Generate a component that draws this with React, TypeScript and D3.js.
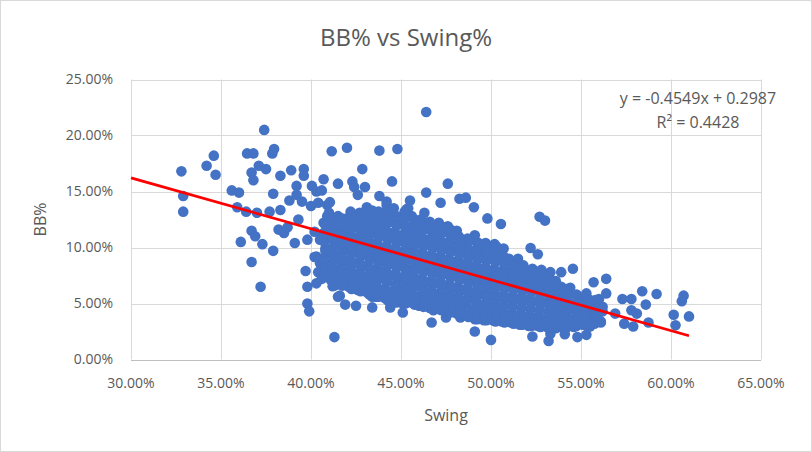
import React, { useEffect, useRef } from 'react';
import * as d3 from 'd3';

// swing %, BB %
const outerPlayers: [number, number][] = [
  [32.8, 16.8], [32.9, 14.6], [32.9, 13.2], [34.2, 17.3], [34.6, 18.2], [34.7, 16.5],
  [35.6, 15.1], [36.0, 14.9], [35.9, 13.6], [36.1, 10.5], [36.45, 18.4], [36.8, 18.4],
  [36.7, 16.7], [36.8, 16.0], [37.1, 17.3], [37.5, 17.0], [37.4, 20.5], [36.4, 13.2],
  [37.0, 13.1], [36.7, 11.5], [36.9, 11.0], [36.7, 8.7], [37.2, 6.5], [37.3, 10.3],
  [37.85, 18.4], [37.95, 18.8], [37.9, 14.8], [38.3, 16.4], [37.9, 9.7], [37.7, 13.2],
  [38.3, 13.35], [38.2, 11.6], [38.5, 11.3], [38.7, 11.8], [38.9, 16.9], [39.6, 17.0],
  [39.6, 16.4], [39.2, 15.5], [38.8, 14.2], [39.2, 14.7], [39.5, 14.1], [39.1, 10.4],
  [39.3, 12.5], [39.8, 10.7], [39.7, 7.9], [39.8, 6.5], [40.3, 6.8], [39.8, 5.0],
  [39.9, 4.3], [40.05, 15.5], [40.3, 15.0], [40.7, 16.1], [40.6, 15.1], [40.0, 13.7],
  [40.4, 14.0], [40.9, 13.8], [41.05, 14.05], [41.15, 18.6], [42.0, 18.9], [41.5, 15.7],
  [42.3, 15.9], [42.4, 15.4], [42.85, 17.0], [43.0, 15.4], [42.6, 14.7], [43.8, 18.65],
  [44.8, 18.8], [44.5, 15.9], [43.8, 14.6], [44.2, 14.1], [45.5, 14.2], [46.4, 22.1],
  [46.4, 14.9], [47.6, 15.7], [47.2, 14.0], [48.25, 14.35], [48.6, 14.45], [49.05, 13.6],
  [49.8, 12.6], [50.55, 12.1], [52.7, 12.75], [53.0, 12.4], [52.2, 9.95], [52.6, 9.4],
  [51.5, 9.0], [54.55, 8.1], [53.9, 7.8], [56.4, 7.2], [55.7, 6.9], [57.3, 5.4],
  [58.4, 6.1], [59.2, 5.85], [57.8, 5.4], [58.6, 4.9], [57.8, 4.4], [58.1, 4.1],
  [57.4, 3.2], [57.9, 2.95], [58.75, 3.3], [60.15, 4.0], [60.25, 3.05], [60.6, 5.2],
  [60.7, 5.7], [61.0, 3.85], [56.9, 4.1], [56.1, 3.4], [56.2, 4.3], [56.4, 5.9],
  [55.5, 2.95], [55.3, 2.2], [54.8, 2.0], [54.1, 2.25], [53.2, 1.65], [53.3, 2.3],
  [52.3, 2.05], [50.0, 1.75], [49.1, 2.5], [46.7, 3.3], [47.5, 3.75], [48.3, 3.75],
  [41.3, 2.0], [41.3, 6.6], [41.6, 5.7], [41.9, 4.9], [42.5, 4.8], [43.4, 4.65],
  [44.4, 4.65], [45.1, 4.2], [43.4, 5.6], [46.0, 4.8], [46.8, 4.4], [40.2, 9.15],
  [40.5, 8.6], [40.9, 8.3], [41.2, 6.55], [41.5, 5.6],
];

const corePlayers: [number, number][] = [
  [40.4, 7.8], [40.7, 8.5], [40.3, 9.2], [40.8, 9.9], [40.5, 10.7], [40.2, 11.4], [40.7, 12.2], [40.9, 12.8], [40.6, 7.2],
  [41.1, 7.1], [40.9, 7.9], [41.2, 8.7], [41.0, 9.5], [41.3, 10.2], [41.1, 11.0], [40.9, 11.8], [41.2, 12.5], [41.0, 13.1],
  [41.6, 6.7], [41.4, 7.5], [41.7, 8.2], [41.5, 9.0], [41.8, 9.8], [41.4, 10.5], [41.6, 11.3], [41.8, 12.0], [41.5, 12.8],
  [42.1, 6.5], [41.9, 7.3], [42.2, 8.0], [42.0, 8.8], [42.3, 9.6], [41.9, 10.4], [42.1, 11.2], [42.3, 11.9], [42.0, 12.6], [42.2, 13.2],
  [42.6, 6.2], [42.4, 7.0], [42.7, 7.8], [42.5, 8.6], [42.8, 9.3], [42.4, 10.1], [42.6, 10.9], [42.8, 11.6], [42.5, 12.4], [42.7, 13.1],
  [43.1, 6.0], [42.9, 6.8], [43.2, 7.5], [43.0, 8.3], [43.3, 9.1], [42.9, 9.9], [43.1, 10.6], [43.3, 11.4], [43.0, 12.2], [43.2, 12.9], [43.1, 13.6],
  [43.6, 5.6], [43.4, 6.4], [43.7, 7.2], [43.5, 8.0], [43.8, 8.7], [43.4, 9.5], [43.6, 10.3], [43.8, 11.0], [43.5, 11.8], [43.7, 12.6], [43.4, 13.3],
  [44.1, 5.5], [43.9, 6.2], [44.2, 7.0], [44.0, 7.7], [44.3, 8.5], [43.9, 9.3], [44.1, 10.0], [44.3, 10.8], [44.0, 11.6], [44.2, 12.3], [44.0, 13.1], [44.2, 13.8],
  [44.6, 5.2], [44.4, 6.0], [44.7, 6.7], [44.5, 7.5], [44.8, 8.3], [44.4, 9.0], [44.6, 9.8], [44.8, 10.6], [44.5, 11.3], [44.7, 12.1], [44.4, 12.9], [44.6, 13.5],
  [45.1, 5.0], [44.9, 5.8], [45.2, 6.5], [45.0, 7.3], [45.3, 8.1], [44.9, 8.8], [45.1, 9.6], [45.3, 10.4], [45.0, 11.1], [45.2, 11.9], [45.1, 12.7], [45.3, 13.4],
  [45.6, 5.1], [45.4, 5.9], [45.7, 6.6], [45.5, 7.4], [45.8, 8.2], [45.4, 9.0], [45.6, 9.7], [45.8, 10.5], [45.5, 11.2], [45.7, 12.0], [45.6, 12.8], [45.4, 13.5],
  [46.1, 4.8], [45.9, 5.6], [46.2, 6.3], [46.0, 7.1], [46.3, 7.9], [45.9, 8.6], [46.1, 9.4], [46.3, 10.2], [46.0, 10.9], [46.2, 11.7], [46.1, 12.5], [46.3, 13.1],
  [46.6, 4.6], [46.4, 5.4], [46.7, 6.1], [46.5, 6.9], [46.8, 7.7], [46.4, 8.4], [46.6, 9.2], [46.8, 10.0], [46.5, 10.7], [46.7, 11.5], [46.6, 12.3],
  [47.1, 4.5], [46.9, 5.3], [47.2, 6.0], [47.0, 6.8], [47.3, 7.6], [46.9, 8.3], [47.1, 9.1], [47.3, 9.9], [47.0, 10.6], [47.2, 11.4], [47.1, 12.2],
  [47.6, 4.3], [47.4, 5.1], [47.7, 5.8], [47.5, 6.6], [47.8, 7.4], [47.4, 8.1], [47.6, 8.9], [47.8, 9.7], [47.5, 10.4], [47.7, 11.2], [47.6, 11.9],
  [48.1, 4.1], [47.9, 4.9], [48.2, 5.6], [48.0, 6.4], [48.3, 7.2], [47.9, 7.9], [48.1, 8.7], [48.3, 9.5], [48.0, 10.2], [48.2, 11.0], [48.1, 11.5],
  [48.6, 3.9], [48.4, 4.7], [48.7, 5.4], [48.5, 6.2], [48.8, 7.0], [48.4, 7.7], [48.6, 8.5], [48.8, 9.3], [48.5, 10.0], [48.7, 10.8],
  [49.1, 3.6], [48.9, 4.4], [49.2, 5.1], [49.0, 5.9], [49.3, 6.7], [48.9, 7.4], [49.1, 8.2], [49.3, 9.0], [49.0, 9.7], [49.2, 10.5], [49.1, 11.1],
  [49.6, 3.5], [49.4, 4.3], [49.7, 5.0], [49.5, 5.8], [49.8, 6.6], [49.4, 7.3], [49.6, 8.1], [49.8, 8.9], [49.5, 9.6], [49.7, 10.4],
  [50.1, 3.5], [49.9, 4.2], [50.2, 4.9], [50.0, 5.7], [50.3, 6.5], [49.9, 7.2], [50.1, 8.0], [50.3, 8.8], [50.0, 9.5], [50.2, 10.3],
  [50.6, 3.4], [50.4, 4.1], [50.7, 4.8], [50.5, 5.6], [50.8, 6.4], [50.4, 7.1], [50.6, 7.9], [50.8, 8.6], [50.5, 9.3], [50.7, 9.9],
  [51.1, 3.3], [50.9, 4.0], [51.2, 4.7], [51.0, 5.5], [51.3, 6.3], [50.9, 7.0], [51.1, 7.8], [51.3, 8.5], [51.0, 9.0],
  [51.6, 3.1], [51.4, 3.9], [51.7, 4.6], [51.5, 5.4], [51.8, 6.2], [51.4, 6.9], [51.6, 7.7], [51.8, 8.4],
  [52.1, 3.0], [51.9, 3.8], [52.2, 4.5], [52.0, 5.3], [52.3, 6.1], [51.9, 6.8], [52.1, 7.6], [52.3, 8.1],
  [52.6, 3.0], [52.4, 3.7], [52.7, 4.4], [52.5, 5.2], [52.8, 6.0], [52.4, 6.7], [52.6, 7.5], [52.8, 8.0],
  [53.1, 2.9], [52.9, 3.6], [53.2, 4.3], [53.0, 5.1], [53.3, 5.9], [52.9, 6.6], [53.1, 7.3], [53.3, 7.8],
  [53.6, 2.8], [53.4, 3.5], [53.7, 4.2], [53.5, 5.0], [53.8, 5.7], [53.4, 6.4], [53.6, 7.0],
  [54.1, 2.9], [53.9, 3.6], [54.2, 4.3], [54.0, 5.1], [54.3, 5.8], [53.9, 6.5],
  [54.6, 2.9], [54.4, 3.6], [54.7, 4.3], [54.5, 5.0], [54.8, 5.7], [54.4, 6.4],
  [55.1, 3.1], [54.9, 3.8], [55.2, 4.5], [55.0, 5.2], [55.3, 5.9],
  [55.6, 3.2], [55.4, 3.9], [55.7, 4.6], [55.5, 5.3],
  [56.1, 3.3], [55.9, 4.0], [56.2, 4.7], [56.0, 5.4],
];

// the players packed in between the core rows
const fillPlayers: [number, number][] = [
  [40.75, 7.5], [40.8, 8.2], [40.7, 9.0], [40.8, 9.7], [40.75, 10.5], [40.7, 11.3], [40.8, 12.0],
  [41.25, 7.0], [41.3, 7.8], [41.2, 8.4], [41.3, 9.3], [41.25, 10.0], [41.2, 10.8], [41.3, 11.5], [41.25, 12.2],
  [41.75, 6.6], [41.8, 7.4], [41.7, 8.1], [41.8, 8.9], [41.75, 9.6], [41.7, 10.4], [41.8, 11.2], [41.75, 11.9], [41.7, 12.6],
  [42.25, 6.3], [42.3, 7.1], [42.2, 7.8], [42.3, 8.6], [42.25, 9.4], [42.2, 10.2], [42.3, 10.9], [42.25, 11.7], [42.2, 12.4], [42.3, 13.0],
  [42.75, 6.1], [42.8, 6.9], [42.7, 7.6], [42.8, 8.4], [42.75, 9.2], [42.7, 9.9], [42.8, 10.7], [42.75, 11.4], [42.7, 12.2], [42.8, 12.9],
  [43.25, 5.8], [43.3, 6.6], [43.2, 7.3], [43.3, 8.1], [43.25, 8.9], [43.2, 9.6], [43.3, 10.4], [43.25, 11.1], [43.2, 11.9], [43.3, 12.6], [43.25, 13.3],
  [43.75, 5.6], [43.8, 6.3], [43.7, 7.1], [43.8, 7.9], [43.75, 8.6], [43.7, 9.4], [43.8, 10.1], [43.75, 10.9], [43.7, 11.7], [43.8, 12.4], [43.75, 13.2],
  [44.25, 5.3], [44.3, 6.1], [44.2, 6.9], [44.3, 7.6], [44.25, 8.4], [44.2, 9.2], [44.3, 9.9], [44.25, 10.7], [44.2, 11.4], [44.3, 12.2], [44.25, 13.0],
  [44.75, 5.1], [44.8, 5.9], [44.7, 6.6], [44.8, 7.4], [44.75, 8.2], [44.7, 8.9], [44.8, 9.7], [44.75, 10.4], [44.7, 11.2], [44.8, 12.0], [44.75, 12.8],
  [45.25, 5.0], [45.3, 5.7], [45.2, 6.5], [45.3, 7.2], [45.25, 8.0], [45.2, 8.8], [45.3, 9.5], [45.25, 10.3], [45.2, 11.1], [45.3, 11.8], [45.25, 12.6], [45.2, 13.2],
  [45.75, 4.9], [45.8, 5.6], [45.7, 6.4], [45.8, 7.2], [45.75, 7.9], [45.7, 8.7], [45.8, 9.5], [45.75, 10.2], [45.7, 11.0], [45.8, 11.7], [45.75, 12.5],
  [46.25, 4.7], [46.3, 5.5], [46.2, 6.2], [46.3, 7.0], [46.25, 7.8], [46.2, 8.5], [46.3, 9.3], [46.25, 10.1], [46.2, 10.8], [46.3, 11.6], [46.25, 12.3],
  [46.75, 4.6], [46.8, 5.3], [46.7, 6.1], [46.8, 6.8], [46.75, 7.6], [46.7, 8.4], [46.8, 9.1], [46.75, 9.9], [46.7, 10.6], [46.8, 11.4], [46.75, 12.0],
  [47.25, 4.4], [47.3, 5.2], [47.2, 5.9], [47.3, 6.7], [47.25, 7.5], [47.2, 8.2], [47.3, 9.0], [47.25, 9.7], [47.2, 10.5], [47.3, 11.3], [47.25, 11.9],
  [47.75, 4.2], [47.8, 5.0], [47.7, 5.7], [47.8, 6.5], [47.75, 7.3], [47.7, 8.0], [47.8, 8.8], [47.75, 9.6], [47.7, 10.3], [47.8, 11.0], [47.75, 11.6],
  [48.25, 4.0], [48.3, 4.8], [48.2, 5.5], [48.3, 6.3], [48.25, 7.1], [48.2, 7.8], [48.3, 8.6], [48.25, 9.3], [48.2, 10.1], [48.3, 10.8],
  [48.75, 3.8], [48.8, 4.5], [48.7, 5.3], [48.8, 6.1], [48.75, 6.8], [48.7, 7.6], [48.8, 8.4], [48.75, 9.1], [48.7, 9.9], [48.8, 10.6],
  [49.25, 3.6], [49.3, 4.4], [49.2, 5.1], [49.3, 5.9], [49.25, 6.6], [49.2, 7.4], [49.3, 8.2], [49.25, 8.9], [49.2, 9.7], [49.3, 10.4],
  [49.75, 3.5], [49.8, 4.3], [49.7, 5.0], [49.8, 5.8], [49.75, 6.5], [49.7, 7.3], [49.8, 8.0], [49.75, 8.8], [49.7, 9.5], [49.8, 10.2],
  [50.25, 3.4], [50.3, 4.2], [50.2, 4.9], [50.3, 5.7], [50.25, 6.4], [50.2, 7.2], [50.3, 7.9], [50.25, 8.7], [50.2, 9.4], [50.3, 10.1],
  [50.75, 3.3], [50.8, 4.0], [50.7, 4.8], [50.8, 5.5], [50.75, 6.3], [50.7, 7.0], [50.8, 7.8], [50.75, 8.5], [50.7, 9.2],
  [51.25, 3.2], [51.3, 3.9], [51.2, 4.7], [51.3, 5.4], [51.25, 6.2], [51.2, 6.9], [51.3, 7.7], [51.25, 8.4],
  [51.75, 3.1], [51.8, 3.8], [51.7, 4.6], [51.8, 5.3], [51.75, 6.1], [51.7, 6.8], [51.8, 7.5], [51.75, 8.1],
  [52.25, 3.0], [52.3, 3.7], [52.2, 4.5], [52.3, 5.2], [52.25, 6.0], [52.2, 6.7], [52.3, 7.4], [52.25, 7.9],
  [52.75, 2.9], [52.8, 3.6], [52.7, 4.4], [52.8, 5.1], [52.75, 5.9], [52.7, 6.6], [52.8, 7.3],
  [53.25, 2.9], [53.3, 3.6], [53.2, 4.3], [53.3, 5.0], [53.25, 5.8], [53.2, 6.5], [53.3, 7.1],
  [53.75, 2.9], [53.8, 3.6], [53.7, 4.3], [53.8, 5.0], [53.75, 5.7], [53.7, 6.3],
  [54.25, 2.9], [54.3, 3.6], [54.2, 4.3], [54.3, 5.0], [54.25, 5.7], [54.2, 6.3],
  [54.75, 3.0], [54.8, 3.7], [54.7, 4.4], [54.8, 5.1], [54.75, 5.8],
  [55.25, 3.1], [55.3, 3.8], [55.2, 4.5], [55.3, 5.2],
  [55.75, 3.2], [55.8, 3.9], [55.7, 4.6], [55.8, 5.3],
];

const xTicks = [30, 35, 40, 45, 50, 55, 60, 65];
const yTicks = [0, 5, 10, 15, 20, 25];

// trendline from the chart label
const slope = -0.4549;
const intercept = 0.2987;

const W = 812;
const H = 452;

const App: React.FC = () => {
  const ref = useRef<SVGSVGElement>(null);

  useEffect(() => {
    if (!ref.current) return;
    const svg = d3.select(ref.current);
    svg.selectAll('*').remove();

    const font = "'Open Sans', sans-serif";
    const grey = '#595959';
    const plot = { left: 131, right: 761, top: 79.5, bottom: 359.5 };

    const x = d3.scaleLinear().domain([30, 65]).range([plot.left, plot.right]);
    const y = d3.scaleLinear().domain([0, 25]).range([plot.bottom, plot.top]);

    svg
      .append('rect')
      .attr('x', 0.5)
      .attr('y', 0.5)
      .attr('width', W - 1)
      .attr('height', H - 1)
      .attr('fill', '#fff')
      .attr('stroke', '#d9d9d9');

    // grid
    const grid = svg.append('g').attr('stroke', '#d9d9d9').attr('stroke-width', 1);
    grid
      .selectAll('line.h')
      .data(yTicks)
      .enter()
      .append('line')
      .attr('x1', plot.left)
      .attr('x2', plot.right)
      .attr('y1', (d) => Math.round(y(d)) + 0.5)
      .attr('y2', (d) => Math.round(y(d)) + 0.5)
      .attr('stroke', (d) => (d === 0 ? '#bfbfbf' : '#d9d9d9'));
    grid
      .selectAll('line.v')
      .data(xTicks)
      .enter()
      .append('line')
      .attr('x1', (d) => Math.round(x(d)) + 0.5)
      .attr('x2', (d) => Math.round(x(d)) + 0.5)
      .attr('y1', plot.top)
      .attr('y2', plot.bottom);

    // tick labels
    svg
      .append('g')
      .selectAll('text')
      .data(yTicks)
      .enter()
      .append('text')
      .attr('x', 113)
      .attr('y', (d) => y(d))
      .attr('dy', '0.35em')
      .attr('text-anchor', 'end')
      .attr('font-family', font)
      .attr('font-size', 14)
      .attr('fill', grey)
      .text((d) => `${d.toFixed(2)}%`);

    svg
      .append('g')
      .selectAll('text')
      .data(xTicks)
      .enter()
      .append('text')
      .attr('x', (d) => x(d))
      .attr('y', 383)
      .attr('dy', '0.35em')
      .attr('text-anchor', 'middle')
      .attr('font-family', font)
      .attr('font-size', 14)
      .attr('fill', grey)
      .text((d) => `${d.toFixed(2)}%`);

    // points
    const all = [...outerPlayers, ...corePlayers, ...fillPlayers];
    svg
      .append('g')
      .selectAll('circle')
      .data(all)
      .enter()
      .append('circle')
      .attr('cx', (d) => x(d[0]))
      .attr('cy', (d) => y(d[1]))
      .attr('r', 5.3)
      .attr('fill', '#4472c4');

    // linear trendline
    const maxX = d3.max(all, (d) => d[0]) as number;
    const trend = [30, maxX].map((v) => [v, (slope * (v / 100) + intercept) * 100] as [number, number]);
    svg
      .append('path')
      .datum(trend)
      .attr('d', d3.line<[number, number]>().x((d) => x(d[0])).y((d) => y(d[1])))
      .attr('stroke', '#ff0000')
      .attr('stroke-width', 2.75)
      .attr('fill', 'none');

    // equation
    const eq = svg
      .append('text')
      .attr('text-anchor', 'middle')
      .attr('font-family', font)
      .attr('font-size', 16)
      .attr('fill', grey);
    eq.append('tspan').attr('x', 698).attr('y', 104).text(`y = ${slope}x + ${intercept}`);
    eq.append('tspan').attr('x', 698).attr('y', 128).text('R² = 0.4428');

    // titles
    svg
      .append('text')
      .attr('x', 406)
      .attr('y', 46)
      .attr('text-anchor', 'middle')
      .attr('font-family', font)
      .attr('font-size', 24)
      .attr('fill', grey)
      .text('BB% vs Swing%');

    svg
      .append('text')
      .attr('x', (plot.left + plot.right) / 2)
      .attr('y', 421)
      .attr('text-anchor', 'middle')
      .attr('font-family', font)
      .attr('font-size', 16)
      .attr('fill', grey)
      .text('Swing');

    svg
      .append('text')
      .attr('transform', `translate(46,${(plot.top + plot.bottom) / 2}) rotate(-90)`)
      .attr('text-anchor', 'middle')
      .attr('font-family', font)
      .attr('font-size', 16)
      .attr('fill', grey)
      .text('BB%');

    return () => {
      svg.selectAll('*').remove();
    };
  }, []);

  return <svg ref={ref} width={W} height={H} style={{ position: 'fixed', left: 0, top: 0 }} />;
};

export default App;
